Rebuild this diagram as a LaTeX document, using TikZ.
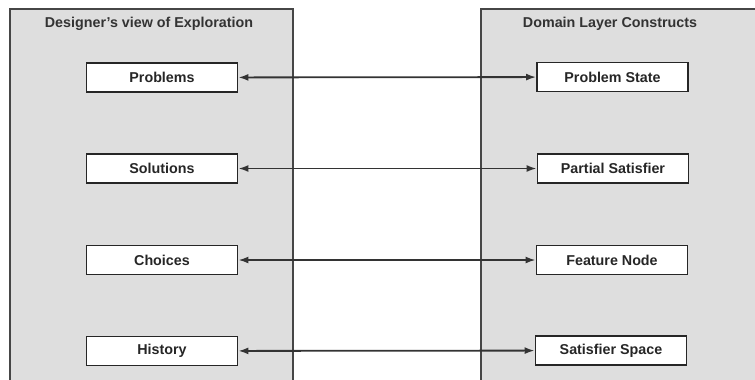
\documentclass[tikz,border=0pt]{standalone}
\usepackage{fontspec}
\setmainfont{Liberation Sans}
\usetikzlibrary{arrows.meta}
\definecolor{panelgray}{RGB}{222,222,222}
\definecolor{linegray}{RGB}{70,70,70}
\tikzset{
  panel/.style={draw=linegray, line width=1.4pt, fill=panelgray},
  itembox/.style={draw=black!85, line width=1.8pt, fill=white, minimum width=151pt, minimum height=29pt, inner sep=0pt, font=\fontsize{14.3}{17}\selectfont\bfseries, text=black!85},
  paneltitle/.style={font=\fontsize{14.3}{17}\selectfont\bfseries, text=black!80, inner sep=0pt},
  link/.style={draw=black!80, line width=1.8pt, {Latex[length=10pt,width=7pt]}-{Latex[length=10pt,width=7pt]}}
}
\begin{document}
\begin{tikzpicture}[x=1pt,y=-1pt]
\useasboundingbox (0,0) rectangle (755,380);
\clip (0,0) rectangle (755,380);
\fill[white] (0,0) rectangle (755,380);
\draw[panel] (10,390) -- (10,9) -- (293,9) -- (293,390);
\draw[panel] (481,390) -- (481,9) -- (765,9) -- (765,390);
\node[paneltitle] (lt) at (149,24) {Designer's view of Exploration};
\node[paneltitle] (rt) at (610,24) {Domain Layer Constructs};
\node[itembox] (p) at (162,77.5) {Problems};
\node[itembox] (s) at (162,168.5) {Solutions};
\node[itembox] (c) at (162,260) {Choices};
\node[itembox] (h) at (162,351) {History};
\node[itembox] (ps) at (612.5,77) {Problem State};
\node[itembox] (pa) at (613,168.5) {Partial Satisfier};
\node[itembox] (fn) at (612,260) {Feature Node};
\node[itembox] (ss) at (611,350.5) {Satisfier Space};
\draw[link] (p) -- (ps);
\draw[link] (s) -- (pa);
\draw[link] (c) -- (fn);
\draw[link] (h) -- (ss);
\end{tikzpicture}
\end{document}
